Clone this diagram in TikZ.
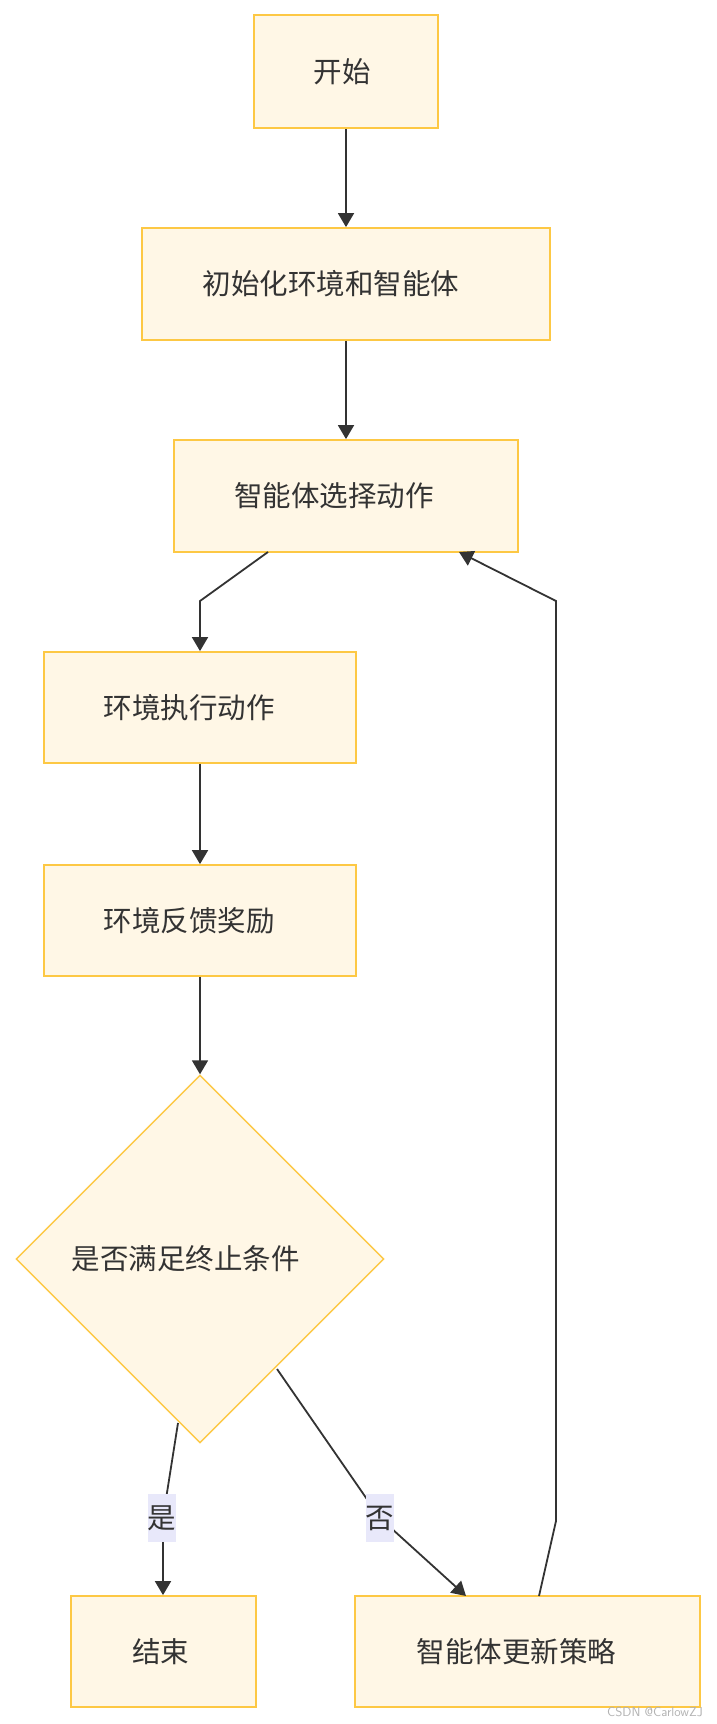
\documentclass[tikz,border=0pt]{standalone}
\usepackage{fontspec}
\newfontfamily\cjk{Noto Sans CJK SC}
\usetikzlibrary{arrows.meta,shapes.geometric}
\definecolor{boxfill}{HTML}{FFF7E6}
\definecolor{boxline}{HTML}{FDC844}
\definecolor{txt}{HTML}{333333}
\definecolor{edge}{HTML}{333333}
\definecolor{lblbg}{HTML}{E8E8FA}
\newcommand\shtext[2]{\hspace*{-#1}#2}
\begin{document}
\begin{tikzpicture}[x=1pt,y=-1pt,
  stepbox/.style={draw=boxline,fill=boxfill,line width=1.8pt,inner sep=0pt,
    text=txt,font=\cjk\fontsize{28.5}{34}\selectfont},
  decision/.style={diamond,draw=boxline,fill=boxfill,line width=1.4pt,inner sep=0pt,
    minimum width=368pt,minimum height=368pt,text=txt,font=\cjk\fontsize{28.5}{34}\selectfont},
  arr/.style={draw=edge,line width=1.8pt,-{Triangle[width=16pt,length=14pt]}},
  lbl/.style={fill=lblbg,inner sep=0pt,minimum width=28pt,minimum height=48pt,
    text=txt,font=\cjk\fontsize{28.5}{34}\selectfont}
]
\useasboundingbox (0,0) rectangle (716,1724);
\fill[white] (0,0) rectangle (716,1724);

\node[stepbox,minimum width=184pt,minimum height=113pt] (start) at (346,71.5) {\shtext{8pt}{开始}};
\node[stepbox,minimum width=408pt,minimum height=112pt] (init) at (346,284) {\shtext{30pt}{初始化环境和智能体}};
\node[stepbox,minimum width=344pt,minimum height=112pt] (select) at (346,496) {\shtext{24pt}{智能体选择动作}};
\node[stepbox,minimum width=312pt,minimum height=111pt] (exec) at (200,707.5) {\shtext{22pt}{环境执行动作}};
\node[stepbox,minimum width=312pt,minimum height=111pt] (reward) at (200,920.5) {\shtext{22pt}{环境反馈奖励}};
\node[decision] (cond) at (200,1259) {\shtext{29pt}{是否满足终止条件}};
\node[stepbox,minimum width=185pt,minimum height=111pt] (endbox) at (163.5,1651.5) {\shtext{6pt}{结束}};
\node[stepbox,minimum width=345pt,minimum height=111pt] (update) at (527.5,1651.5) {\shtext{22pt}{智能体更新策略}};

\coordinate (s1) at (268,552);
\coordinate (b1) at (200,601);
\coordinate (y0) at (178,1423);
\coordinate (n0) at (277,1369);
\coordinate (u0) at (539,1596);
\coordinate (u1) at (556,1521);
\coordinate (u2) at (556,601);
\coordinate (u3) at (459,552);

\draw[arr] (start.south) -- (init.north);
\draw[arr] (init.south) -- (select.north);
\draw[arr] (s1) -- (b1) -- (exec.north);
\draw[arr] (exec.south) -- (reward.north);
\draw[arr] (reward.south) -- (cond.north);
\draw[arr] (y0) -- (163,1518) -- (endbox.north -| 163,0);
\draw[arr] (n0) -- (380,1518) -- (466,1596);
\draw[arr] (u0) -- (u1) -- (u2) -- (u3);

\node[lbl] (yes) at (162,1518) {是};
\node[lbl] (no) at (380,1518) {否};

\node[text=black!30,font=\sffamily\fontsize{13}{14}\selectfont,anchor=east,inner sep=0pt] (wm) at (703,1712) {CSDN @CarlowZJ};
\end{tikzpicture}
\end{document}
